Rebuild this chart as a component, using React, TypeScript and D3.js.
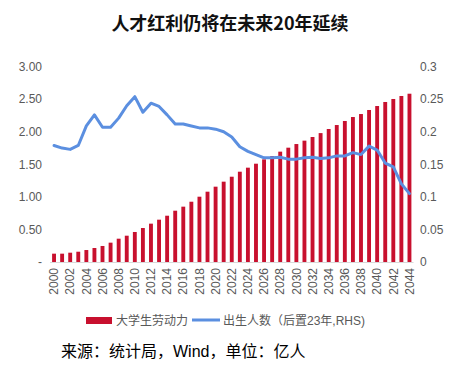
import React from "react";
import * as d3 from "d3";

const years: number[] = d3.range(2000, 2045);
const graduates: number[] = [
  0.128, 0.128, 0.143, 0.158, 0.184, 0.215, 0.246, 0.297, 0.358, 0.404,
  0.461, 0.522, 0.589, 0.65, 0.711, 0.788, 0.85, 0.926, 1.003, 1.08,
  1.157, 1.234, 1.31, 1.387, 1.449, 1.51, 1.577, 1.628, 1.695, 1.756,
  1.812, 1.864, 1.92, 1.98, 2.043, 2.104, 2.166, 2.227, 2.273, 2.335,
  2.396, 2.458, 2.504, 2.55, 2.585,
];
const births: number[] = [
  0.179, 0.175, 0.173, 0.179, 0.209, 0.226, 0.207, 0.207, 0.221, 0.24,
  0.254, 0.23, 0.244, 0.239, 0.226, 0.212, 0.212, 0.209, 0.206, 0.206,
  0.204, 0.2, 0.192, 0.177, 0.17, 0.165, 0.16, 0.16, 0.161, 0.158,
  0.158, 0.16, 0.161, 0.159, 0.16, 0.163, 0.163, 0.168, 0.165, 0.178,
  0.172, 0.152, 0.146, 0.12, 0.105,
];
const leftTicks: number[] = [0, 0.5, 1, 1.5, 2, 2.5, 3];
const rightTicks: number[] = [0, 0.05, 0.1, 0.15, 0.2, 0.25, 0.3];
const title = "人才红利仍将在未来20年延续";
const legendBar = "大学生劳动力";
const legendLine = "出生人数（后置23年,RHS)";
const source = "来源：统计局，Wind，单位：亿人";

const BAR = "#c8102e";
const LINE = "#5b8fe0";
const TXT = "#595959";
const FONT = "'Liberation Sans', Arial, 'Noto Sans CJK SC', sans-serif";

export default function App() {
  const W = 460, H = 368;
  const x = d3.scaleBand<number>().domain(years).range([50, 413.5]).paddingInner(0.52).paddingOuter(0.26);
  const yL = d3.scaleLinear().domain([0, 3]).range([262, 66.7]);
  const yR = d3.scaleLinear().domain([0, 0.3]).range([262, 66.7]);
  const cx = (yr: number) => (x(yr) as number) + x.bandwidth() / 2;
  const line = d3.line<number>().x((_, i) => cx(years[i])).y((d) => yR(d));
  const fmtL = (v: number) => (v === 0 ? "-" : d3.format(".2f")(v));
  const fmtR = (v: number) => (v === 0 ? "0" : String(+v.toFixed(2)));

  return (
    <svg width={W} height={H} style={{ position: "absolute", left: 0, top: 0, background: "#fff" }} fontFamily={FONT}>
      <text x={230} y={30} textAnchor="middle" fontSize={18} fontWeight="bold" fill="#111" fontFamily="'Noto Sans CJK SC', sans-serif">
        {title}
      </text>
      {graduates.map((v, i) => (
        <rect key={i} x={x(years[i])} y={yL(v)} width={x.bandwidth()} height={yL(0) - yL(v)} fill={BAR} />
      ))}
      <line x1={50} x2={413.5} y1={262.5} y2={262.5} stroke="#d9d9d9" strokeWidth={1} />
      <path d={line(births) || ""} fill="none" stroke={LINE} strokeWidth={3} strokeLinejoin="round" strokeLinecap="round" />
      {leftTicks.map((t) => (
        <text key={t} x={42} y={yL(t)} dy="0.35em" textAnchor="end" fontSize={12} fill={TXT}>
          {fmtL(t)}
        </text>
      ))}
      {rightTicks.map((t) => (
        <text key={t} x={420} y={yR(t)} dy="0.35em" textAnchor="start" fontSize={12} fill={TXT}>
          {fmtR(t)}
        </text>
      ))}
      {years.filter((y) => y % 2 === 0).map((y) => (
        <text key={y} transform={`translate(${cx(y)},268) rotate(-90)`} dy="0.35em" textAnchor="end" fontSize={12} fill={TXT}>
          {y}
        </text>
      ))}
      <rect x={86} y={317} width={26} height={7} fill={BAR} />
      <text x={116} y={320.5} dy="0.35em" fontSize={12} fill={TXT} fontFamily="'Noto Sans CJK SC', sans-serif">{legendBar}</text>
      <line x1={192} x2={220} y1={320} y2={320} stroke={LINE} strokeWidth={3} />
      <text x={223} y={320.5} dy="0.35em" fontSize={12} fill={TXT} fontFamily="'Liberation Sans', 'Noto Sans CJK SC', sans-serif">{legendLine}</text>
      <text x={61} y={357} fontSize={16} fill="#000" fontFamily="'Liberation Sans', 'Noto Sans CJK SC', sans-serif">{source}</text>
    </svg>
  );
}
